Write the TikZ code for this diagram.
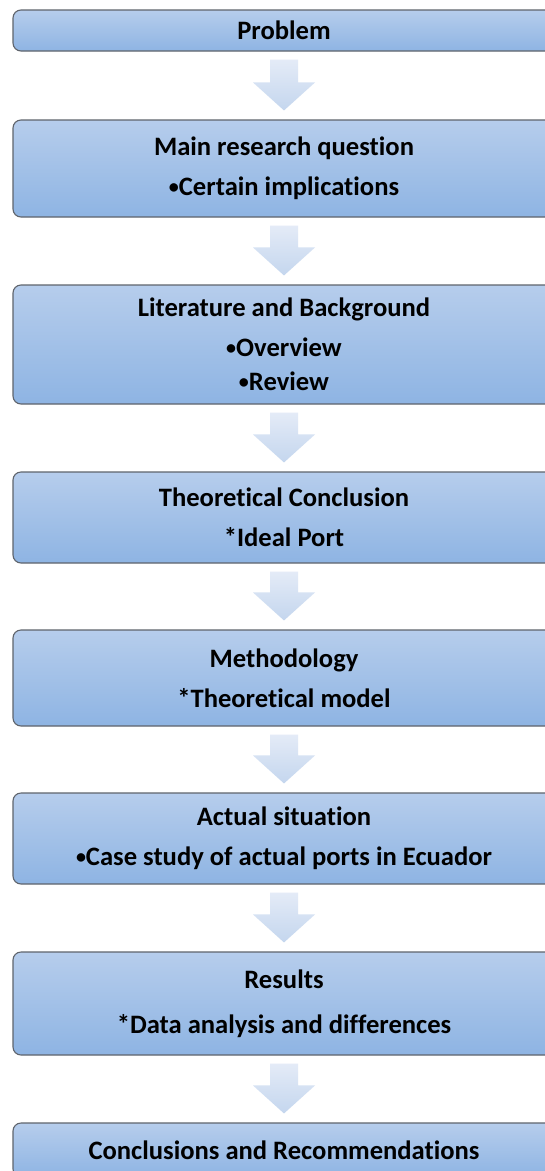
\documentclass[tikz,border=0pt]{standalone}
\usepackage{fontspec}
\setmainfont{Carlito}[RawFeature={-liga;-clig;-calt;-dlig}]
\usetikzlibrary{calc}
\definecolor{boxtop}{RGB}{182,205,236}
\definecolor{boxbot}{RGB}{142,180,227}
\definecolor{boxline}{RGB}{95,100,108}
\definecolor{arrtop}{RGB}{228,235,247}
\definecolor{arrbot}{RGB}{196,214,238}
\newcommand{\bul}{\raisebox{1.8pt}{\fontsize{20}{20}\selectfont •}}
\newcommand{\nti}{t\kern0pt i}
\tikzset{
  stepbox/.style={rectangle, rounded corners=8pt, draw=boxline, line width=1.1pt,
    top color=boxtop, bottom color=boxbot, minimum width=542pt, inner sep=0pt,
    align=center, font=\fontsize{26.6}{34}\selectfont\bfseries},
  arrowfill/.style={top color=arrtop, bottom color=arrbot, draw=none}
}
\begin{document}
\begin{tikzpicture}[x=1pt,y=1pt]
\clip (0,0) rectangle (545,-1171);
\fill[white] (0,0) rectangle (545,-1171);
\node[stepbox, minimum height=41pt] (b1) at (284,-30.5) {Problem};
\node[stepbox, minimum height=97pt] (b2) at (284,-168.5) {Main research question\\[6pt] \bul Certain implications};
\node[stepbox, minimum height=119pt] (b3) at (284,-344.5) {Literature and Background\\[6pt] \bul Overview\\ \bul Review};
\node[stepbox, minimum height=91pt] (b4) at (284,-517.5) {Theore\nti cal Conclusion\\[6pt] *Ideal Port};
\node[stepbox, minimum height=96pt] (b5) at (284,-678) {Methodology\\[6pt] *Theore\nti cal model};
\node[stepbox, minimum height=91pt] (b6) at (284,-838.5) {Actual situation\\[6pt] \bul Case study of actual ports in Ecuador};
\node[stepbox, minimum height=103pt] (b7) at (284,-1003.5) {Results\\[11pt] *Data analysis and differences};
\node[stepbox, minimum height=54pt] (b8) at (284,-1150) {Conclusions and Recommendations};
\foreach \a/\b in {b1/b2,b2/b3,b3/b4,b4/b5,b5/b6,b6/b7,b7/b8}{
  \shade[arrowfill] let \p1=($(\a.south)+(0,-8)$), \p2=($(\b.north)+(0,9)$) in
    (\x1-14,\y1) -- (\x1+14,\y1) -- (\x1+14,\y2+28) -- (\x1+31,\y2+28)
    -- (\x2,\y2) -- (\x1-31,\y2+28) -- (\x1-14,\y2+28) -- cycle;
}
\end{tikzpicture}
\end{document}
